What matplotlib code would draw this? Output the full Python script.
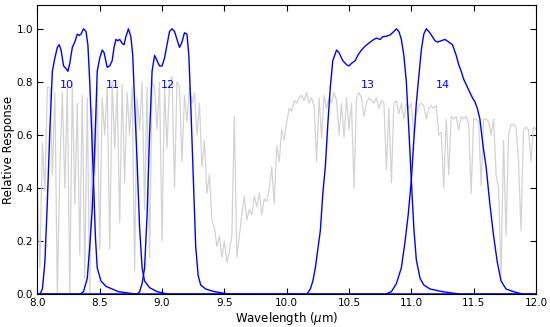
import numpy as np
import matplotlib
matplotlib.use('Agg')
import matplotlib.pyplot as plt

# atmospheric transmission (grey), sampled every 0.02 um from 8.0 to 12.0
atm_start, atm_step = 8.0, 0.02
atm_values = [
    0.40, 0.10, 0.57, 0.39, 0.78, 0.78, 0.45, 0.76, 0.00, 0.48,
    0.76, 0.40, 0.78, 0.00, 0.80, 0.34, 0.72, 0.15, 0.75, 0.06,
    0.74, 0.00, 0.70, 0.45, 0.78, 0.17, 0.74, 0.60, 0.78, 0.17,
    0.80, 0.55, 0.78, 0.27, 0.79, 0.42, 0.76, 0.60, 0.78, 0.09,
    0.74, 0.62, 0.80, 0.32, 0.78, 0.14, 0.80, 0.78, 0.62, 0.80,
    0.20, 0.78, 0.55, 0.80, 0.82, 0.40, 0.80, 0.78, 0.50, 0.75,
    0.65, 0.78, 0.72, 0.76, 0.60, 0.72, 0.48, 0.58, 0.38, 0.45,
    0.28, 0.25, 0.18, 0.22, 0.14, 0.20, 0.12, 0.16, 0.22, 0.67,
    0.14, 0.22, 0.30, 0.37, 0.28, 0.32, 0.30, 0.37, 0.33, 0.38,
    0.30, 0.36, 0.35, 0.40, 0.48, 0.34, 0.56, 0.50, 0.62, 0.58,
    0.65, 0.70, 0.69, 0.73, 0.72, 0.74, 0.75, 0.73, 0.76, 0.72,
    0.74, 0.71, 0.50, 0.74, 0.59, 0.75, 0.70, 0.74, 0.72, 0.76,
    0.73, 0.60, 0.72, 0.59, 0.74, 0.62, 0.72, 0.40, 0.74, 0.76,
    0.74, 0.67, 0.72, 0.74, 0.73, 0.72, 0.74, 0.70, 0.73, 0.72,
    0.47, 0.70, 0.42, 0.72, 0.73, 0.68, 0.72, 0.66, 0.72, 0.70,
    0.72, 0.59, 0.68, 0.71, 0.72, 0.71, 0.66, 0.70, 0.71, 0.70,
    0.71, 0.60, 0.61, 0.40, 0.66, 0.45, 0.67, 0.66, 0.67, 0.62,
    0.67, 0.66, 0.67, 0.64, 0.38, 0.66, 0.66, 0.65, 0.41, 0.66,
    0.66, 0.65, 0.60, 0.66, 0.45, 0.40, 0.07, 0.58, 0.22, 0.60,
    0.64, 0.64, 0.63, 0.50, 0.24, 0.62, 0.63, 0.62, 0.50, 0.63,
    0.62,
]

# ASTER TIR band spectral response
b10_wl = [8.00, 8.02, 8.04, 8.06, 8.08, 8.10, 8.12, 8.14, 8.16, 8.175, 8.19, 8.21, 8.23, 8.245,
          8.26, 8.28, 8.30, 8.32, 8.335, 8.35, 8.37, 8.39, 8.405, 8.42, 8.435, 8.45, 8.465, 8.48,
          8.51, 8.55, 8.65, 8.80, 12.0]
b10_r = [0.0, 0.0, 0.02, 0.12, 0.35, 0.62, 0.84, 0.89, 0.93, 0.94, 0.92, 0.86, 0.85, 0.84,
         0.87, 0.93, 0.95, 0.98, 0.975, 0.98, 1.0, 0.99, 0.94, 0.80, 0.62, 0.43, 0.22, 0.10,
         0.05, 0.03, 0.01, 0.0, 0.0]

b11_wl = [8.00, 8.34, 8.37, 8.40, 8.42, 8.44, 8.46, 8.48, 8.50, 8.52, 8.535, 8.56, 8.58, 8.60,
          8.615, 8.63, 8.645, 8.66, 8.68, 8.695, 8.71, 8.73, 8.75, 8.765, 8.78, 8.80, 8.82,
          8.84, 8.86, 8.90, 8.96, 9.05, 12.0]
b11_r = [0.0, 0.0, 0.01, 0.06, 0.18, 0.32, 0.55, 0.84, 0.89, 0.92, 0.91, 0.855, 0.86, 0.88,
         0.93, 0.96, 0.955, 0.96, 0.945, 0.94, 0.97, 1.0, 0.97, 0.90, 0.72, 0.50, 0.25,
         0.10, 0.05, 0.025, 0.01, 0.0, 0.0]

b12_wl = [8.00, 8.80, 8.82, 8.84, 8.86, 8.88, 8.90, 8.92, 8.94, 8.96, 8.98, 9.00, 9.02, 9.04,
          9.06, 9.08, 9.10, 9.12, 9.14, 9.16, 9.18, 9.20, 9.215, 9.23, 9.25, 9.27, 9.29, 9.31,
          9.35, 9.42, 9.55, 12.0]
b12_r = [0.0, 0.0, 0.01, 0.04, 0.10, 0.30, 0.60, 0.84, 0.90, 0.88, 0.86, 0.86, 0.89, 0.94,
         0.99, 1.0, 0.99, 0.96, 0.93, 0.95, 0.985, 0.98, 0.90, 0.72, 0.45, 0.18, 0.07, 0.035,
         0.02, 0.01, 0.0, 0.0]

b13_wl = [8.00, 10.16, 10.19, 10.21, 10.23, 10.25, 10.27, 10.29, 10.31, 10.33, 10.35, 10.37,
          10.40, 10.42, 10.45, 10.48, 10.50, 10.52, 10.55, 10.57, 10.60, 10.63, 10.67, 10.70,
          10.72, 10.75, 10.77, 10.80, 10.83, 10.86, 10.88, 10.90, 10.92, 10.94, 10.96, 10.98,
          11.00, 11.02, 11.04, 11.07, 11.10, 11.15, 11.25, 11.40, 12.0]
b13_r = [0.0, 0.0, 0.02, 0.05, 0.10, 0.17, 0.24, 0.38, 0.48, 0.64, 0.78, 0.88,
         0.92, 0.91, 0.88, 0.865, 0.86, 0.87, 0.88, 0.90, 0.92, 0.935, 0.95, 0.96,
         0.965, 0.96, 0.97, 0.972, 0.977, 0.99, 1.0, 0.99, 0.96, 0.90, 0.80, 0.62,
         0.43, 0.25, 0.13, 0.06, 0.035, 0.02, 0.01, 0.0, 0.0]

b14_wl = [8.00, 10.79, 10.84, 10.88, 10.92, 10.95, 10.975, 11.00, 11.02, 11.04, 11.06, 11.08,
          11.10, 11.12, 11.14, 11.16, 11.19, 11.21, 11.24, 11.27, 11.30, 11.33, 11.36, 11.38,
          11.40, 11.42, 11.45, 11.47, 11.49, 11.51, 11.53, 11.55, 11.575, 11.60, 11.63, 11.66,
          11.69, 11.72, 11.76, 11.82, 11.90, 12.0]
b14_r = [0.0, 0.0, 0.01, 0.04, 0.10, 0.20, 0.30, 0.43, 0.58, 0.72, 0.82, 0.92,
         0.98, 1.0, 0.99, 0.977, 0.955, 0.95, 0.955, 0.96, 0.95, 0.94, 0.90, 0.865,
         0.84, 0.81, 0.78, 0.76, 0.74, 0.725, 0.70, 0.66, 0.56, 0.48, 0.34, 0.22,
         0.12, 0.05, 0.02, 0.01, 0.0, 0.0]

band_names = ['10', '11', '12', '13', '14']
label_x = [8.235, 8.605, 9.047, 10.652, 11.254]
label_y = 0.79

plt.rcParams['xtick.direction'] = 'in'
plt.rcParams['ytick.direction'] = 'in'
plt.rcParams['xtick.top'] = True
plt.rcParams['ytick.right'] = True

fig = plt.figure(figsize=(5.5, 3.27), dpi=100)
ax = fig.add_axes([0.068, 0.1, 0.9065, 0.885])

atm_wl = atm_start + atm_step * np.arange(len(atm_values))
ax.plot(atm_wl, atm_values, color='#d3d3d3', lw=0.9)

bands = [(b10_wl, b10_r), (b11_wl, b11_r), (b12_wl, b12_r), (b13_wl, b13_r), (b14_wl, b14_r)]
for wl, r in bands:
    ax.plot(wl, r, color='b', lw=1.0)

for name, x in zip(band_names, label_x):
    ax.text(x, label_y, name, color='b', fontsize=8, ha='center', va='center')

ax.set_xlim(8.0, 12.0)
ax.set_ylim(0, 1.09)
ax.set_xticks(np.arange(8.0, 12.01, 0.5))
ax.set_yticks(np.arange(0.0, 1.01, 0.2))
ax.tick_params(labelsize=7.5, length=4, width=0.8, pad=3)
ax.set_xlabel(r'Wavelength ($\mu$m)', fontsize=8.5, labelpad=1)
ax.set_ylabel('Relative Response', fontsize=8.5, labelpad=1)

fig.savefig('out.png', dpi=100)
